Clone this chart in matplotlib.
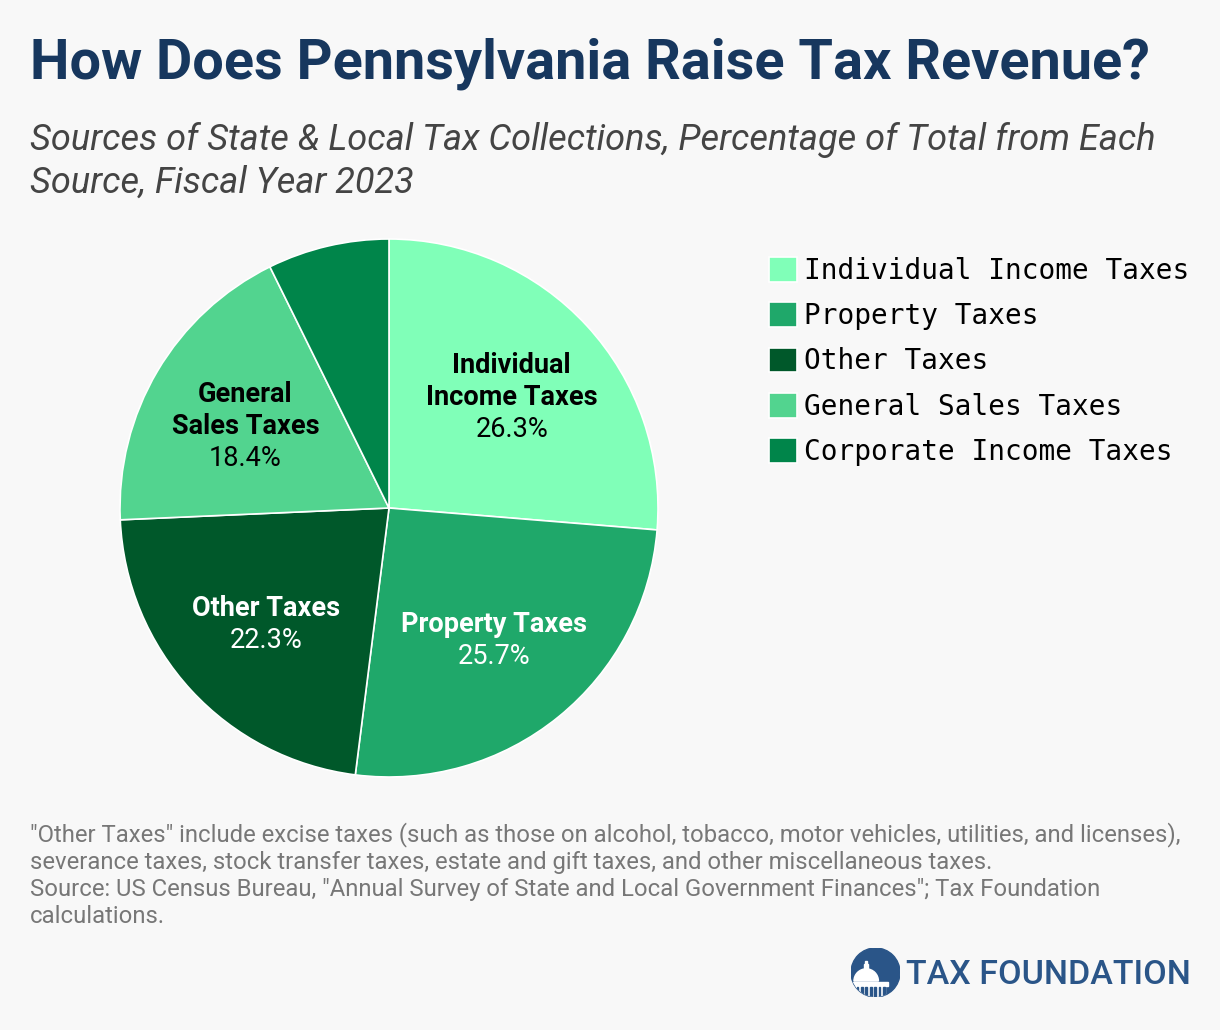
import matplotlib.pyplot as plt
import numpy as np
from matplotlib.patches import Circle, Wedge, Rectangle

plt.rcParams['font.family'] = ['Roboto', 'DejaVu Sans']

# Data
categories = ['Individual Income Taxes', 'Property Taxes', 'Other Taxes',
              'General Sales Taxes', 'Corporate Income Taxes']
short_names = ['Individual\nIncome Taxes', 'Property Taxes', 'Other Taxes',
               'General\nSales Taxes', '']
shares = [26.3, 25.7, 22.3, 18.4, 7.3]
colors = ['#80FFB8', '#1FA86A', '#00582A', '#52D48F', '#00854A']
label_colors = ['black', 'white', 'white', 'black', 'black']

W, H = 1220, 1030
bg = '#F8F8F8'
fig = plt.figure(figsize=(W / 100, H / 100), dpi=100, facecolor=bg)

# pie axes: center (389, 508) px, radius 269 px
cx, cy, r = 389, 508, 269
ax = fig.add_axes([(cx - r) / W, (H - cy - r) / H, 2 * r / W, 2 * r / H])
ax.set_facecolor(bg)
wedges, _ = ax.pie(shares, colors=colors, startangle=90, counterclock=False,
                   radius=1, wedgeprops=dict(edgecolor='white', linewidth=1.2))
ax.set_xlim(-1, 1)
ax.set_ylim(-1, 1)
ax.set_aspect('equal')
ax.axis('off')

step = 32 / r  # line spacing of the inner labels, in data units
for w, name, val, c in zip(wedges, short_names, shares, label_colors):
    if not name:
        continue
    ang = np.deg2rad((w.theta1 + w.theta2) / 2)
    x, y = 0.62 * np.cos(ang), 0.62 * np.sin(ang) - 3 / r
    lines = name.split('\n') + [f'{val}%']
    n = len(lines)
    for i, s in enumerate(lines):
        yy = y + ((n - 1) / 2 - i) * step
        ax.text(x, yy, s, ha='center', va='center', fontsize=19.5,
                fontweight='normal' if i == n - 1 else 'bold', color=c)

# legend
fig.legend(wedges, categories, loc='upper left',
           bbox_to_anchor=(769 / W, 1 - 257 / H), frameon=False,
           prop=dict(family='DejaVu Sans Mono', size=20),
           handlelength=1.0, handleheight=1.0, handletextpad=0.25,
           labelspacing=0.62, borderpad=0, borderaxespad=0)

# titles
fig.text(30 / W, 1 - 64 / H, 'How Does Pennsylvania Raise Tax Revenue?',
         fontsize=40.2, fontweight='bold', color='#17375E', va='center')
fig.text(30 / W, 1 - 161 / H,
         'Sources of State & Local Tax Collections, Percentage of Total from Each\n'
         'Source, Fiscal Year 2023',
         fontsize=26, style='italic', color='#444444', va='center',
         linespacing=1.24)

# footnote
fig.text(30 / W, 1 - 875 / H,
         '"Other Taxes" include excise taxes (such as those on alcohol, tobacco, '
         'motor vehicles, utilities, and licenses),\n'
         'severance taxes, stock transfer taxes, estate and gift taxes, and '
         'other miscellaneous taxes.\n'
         'Source: US Census Bureau, "Annual Survey of State and Local Government '
         'Finances"; Tax Foundation\ncalculations.',
         fontsize=17.2, color='#777777', va='center', linespacing=1.23)

# logo
blue = '#2A5588'
logo = fig.add_axes([851 / W, 1 - 997 / H, 49 / W, 49 / H])
logo.set_xlim(-1, 1)
logo.set_ylim(-1, 1)
logo.set_aspect('equal')
logo.axis('off')
disc = Circle((0, 0), 1, color=blue)
logo.add_patch(disc)
dome_parts = [
    Wedge((-0.38, -0.35), 0.5, 0, 180, color='white'),
    Rectangle((-0.46, 0.1), 0.16, 0.25, color='white'),
    Rectangle((-0.42, 0.35), 0.08, 0.12, color='white'),
    Rectangle((-1.0, -0.55), 1.5, 0.18, color='white'),
    Rectangle((-1.0, -1.0), 1.4, 0.4, color='white'),
]
for p in dome_parts:
    p.set_clip_path(disc)
    logo.add_patch(p)
for xc in np.arange(-0.95, 0.35, 0.18):
    bar = Rectangle((xc, -1.0), 0.07, 0.4, color=blue)
    bar.set_clip_path(disc)
    logo.add_patch(bar)

brand = fig.text(906 / W, 1 - 975 / H, 'TAX FOUNDATION', fontsize=28,
                 fontweight='medium', color=blue, va='center')
fig.canvas.draw()
bw = brand.get_window_extent().width
brand.set_fontsize(28 * 284 / bw)

fig.savefig('out.png', dpi=100, facecolor=bg)
